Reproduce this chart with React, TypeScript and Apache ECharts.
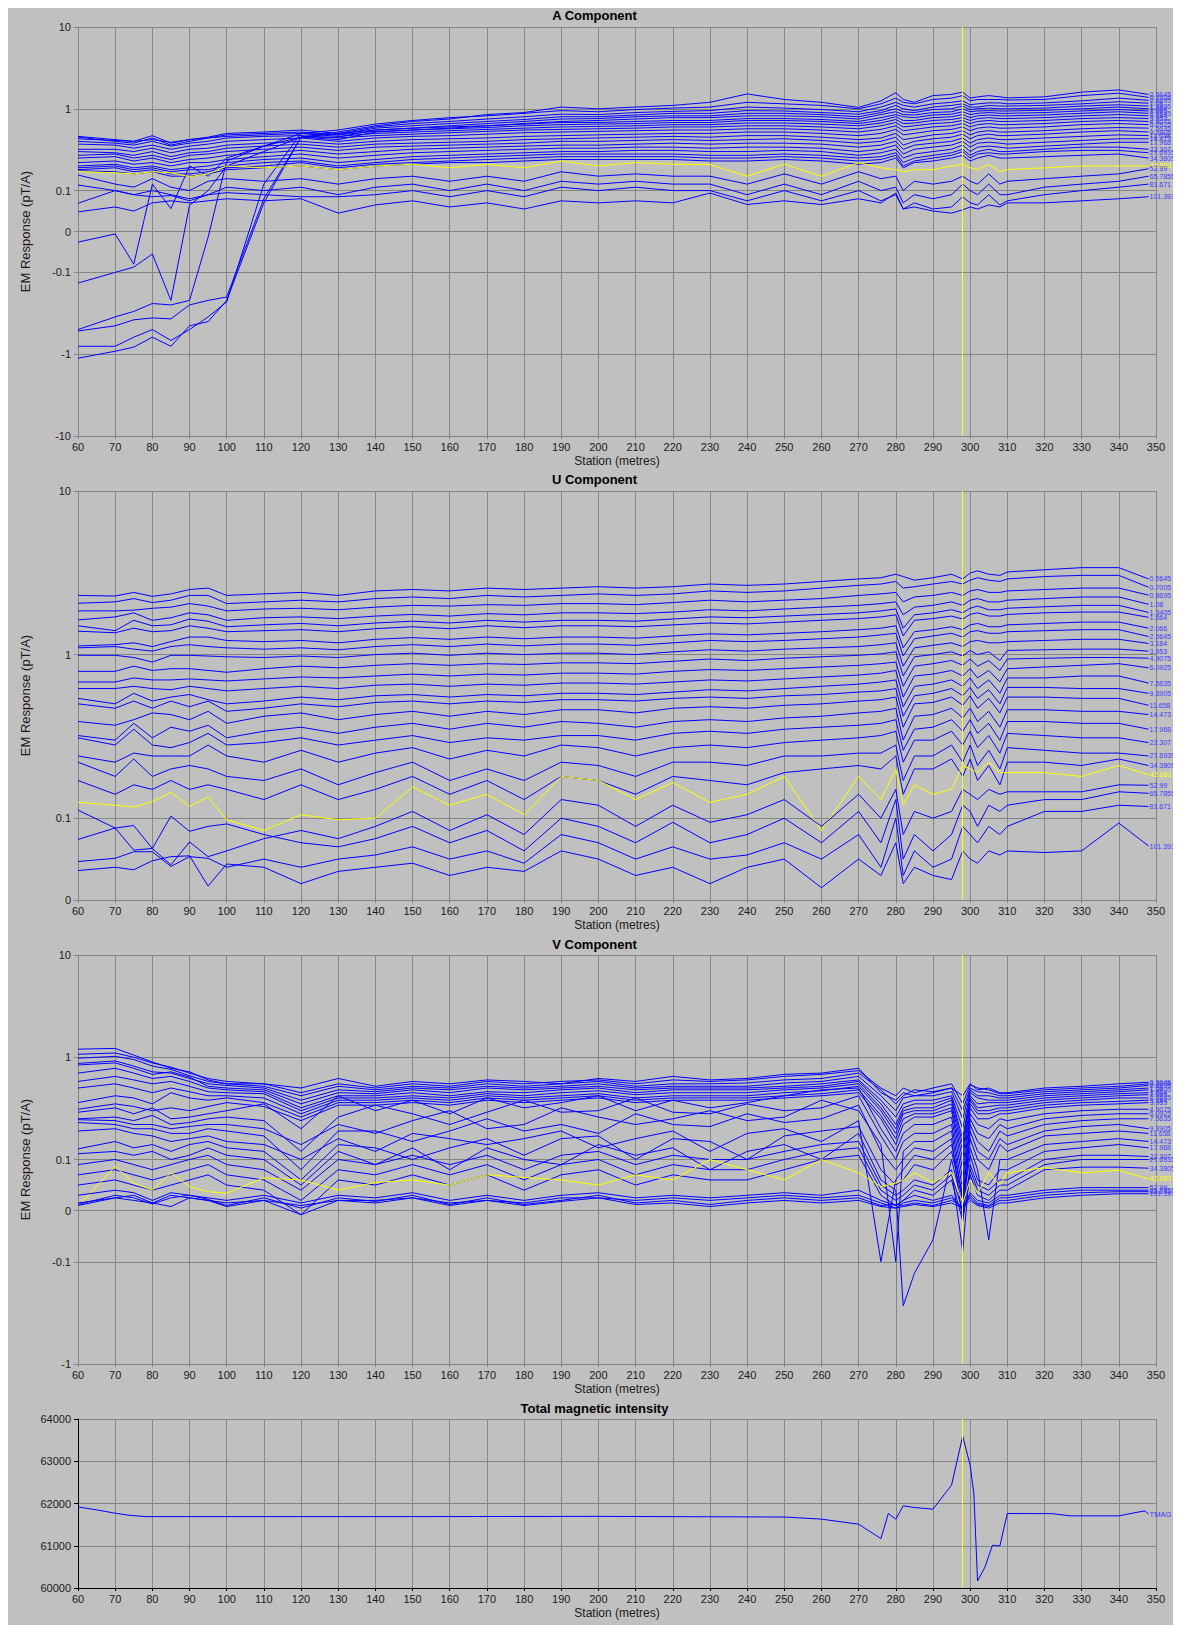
import React, { useEffect, useRef } from 'react';
import * as echarts from 'echarts';

// ---------------- DATA ----------------
const CHANNELS = ['0.5645', '0.7005', '0.8695', '1.08', '1.3405', '1.664', '2.066', '2.5645', '3.184', '3.953', '4.9075', '6.0925', '7.5635', '9.3905', '11.658', '14.473', '17.968', '22.307', '27.6935', '34.3805', '42.683', '52.99', '65.7855', '81.671', '101.393'];
const YELLOW_CHANNEL = '42.683';

const STATIONS = [60, 70, 75, 80, 85, 90, 95, 100, 110, 120, 130, 140, 150, 160, 170, 180, 190, 200, 210, 220, 230, 240, 250, 260, 270, 276, 280, 282, 285, 290, 295, 298, 300, 302, 305, 308, 310, 320, 330, 340, 348];

const A_VALUES = [
  [-1.12, -0.92, -0.82, -0.62, -0.8, -0.45, -0.4, -0.22, 0.07, 0.45, 0.52, 0.62, 0.7, 0.75, 0.85, 0.9, 1.05, 1.0, 1.05, 1.1, 1.2, 1.52, 1.3, 1.2, 1.04, 1.25, 1.57, 1.3, 1.2, 1.45, 1.5, 1.6, 1.35, 1.4, 1.45, 1.4, 1.36, 1.4, 1.6, 1.7, 1.5],
  [-0.8, -0.8, -0.62, -0.5, -0.68, -0.5, -0.35, -0.23, 0.12, 0.5, 0.55, 0.65, 0.72, 0.78, 0.82, 0.88, 0.95, 0.92, 0.98, 1.02, 1.05, 1.2, 1.15, 1.1, 1.0, 1.15, 1.35, 1.2, 1.15, 1.3, 1.35, 1.45, 1.25, 1.3, 1.3, 1.3, 1.28, 1.3, 1.45, 1.55, 1.38],
  [-0.52, -0.45, -0.38, -0.36, -0.37, -0.25, -0.22, -0.2, 0.08, 0.45, 0.5, 0.6, 0.66, 0.7, 0.75, 0.8, 0.86, 0.85, 0.9, 0.93, 0.95, 1.05, 1.02, 0.98, 0.92, 1.05, 1.2, 1.1, 1.05, 1.15, 1.2, 1.25, 1.12, 1.15, 1.18, 1.18, 1.15, 1.18, 1.25, 1.35, 1.27],
  [-0.5, -0.35, -0.3, -0.24, -0.25, -0.22, -0.014, 0.23, 0.35, 0.5, 0.48, 0.58, 0.62, 0.66, 0.7, 0.74, 0.8, 0.8, 0.84, 0.88, 0.88, 0.95, 0.94, 0.9, 0.86, 0.95, 1.1, 1.0, 0.95, 1.05, 1.1, 1.15, 1.05, 1.05, 1.1, 1.08, 1.08, 1.1, 1.15, 1.22, 1.17],
  [-0.135, -0.1, -0.087, -0.055, -0.22, 0.064, 0.1, 0.2, 0.3, 0.45, 0.45, 0.55, 0.58, 0.62, 0.66, 0.7, 0.75, 0.76, 0.8, 0.82, 0.82, 0.88, 0.88, 0.85, 0.8, 0.9, 1.0, 0.92, 0.9, 0.98, 1.0, 1.08, 0.98, 1.0, 1.02, 1.0, 1.0, 1.02, 1.08, 1.12, 1.08],
  [-0.026, -0.006, -0.08, 0.12, 0.056, 0.2, 0.15, 0.25, 0.35, 0.45, 0.42, 0.52, 0.55, 0.58, 0.62, 0.66, 0.7, 0.72, 0.75, 0.78, 0.78, 0.82, 0.82, 0.8, 0.75, 0.85, 0.92, 0.85, 0.84, 0.9, 0.92, 1.0, 0.92, 0.94, 0.95, 0.94, 0.94, 0.96, 1.0, 1.05, 1.0],
  [0.46, 0.42, 0.4, 0.47, 0.38, 0.42, 0.45, 0.5, 0.52, 0.55, 0.5, 0.55, 0.58, 0.6, 0.62, 0.65, 0.68, 0.68, 0.7, 0.72, 0.72, 0.76, 0.76, 0.74, 0.7, 0.78, 0.85, 0.8, 0.78, 0.84, 0.86, 0.92, 0.85, 0.88, 0.9, 0.88, 0.88, 0.9, 0.94, 0.98, 0.94],
  [0.45, 0.4, 0.38, 0.44, 0.36, 0.4, 0.44, 0.48, 0.5, 0.52, 0.48, 0.53, 0.55, 0.57, 0.59, 0.62, 0.64, 0.65, 0.66, 0.68, 0.68, 0.72, 0.72, 0.7, 0.66, 0.72, 0.8, 0.72, 0.72, 0.78, 0.8, 0.85, 0.78, 0.82, 0.84, 0.82, 0.82, 0.84, 0.88, 0.92, 0.88],
  [0.43, 0.41, 0.4, 0.42, 0.39, 0.42, 0.44, 0.46, 0.48, 0.5, 0.46, 0.5, 0.52, 0.54, 0.56, 0.58, 0.6, 0.61, 0.62, 0.64, 0.64, 0.67, 0.67, 0.65, 0.62, 0.67, 0.74, 0.66, 0.67, 0.72, 0.74, 0.78, 0.72, 0.76, 0.78, 0.76, 0.76, 0.78, 0.82, 0.85, 0.82],
  [0.4, 0.38, 0.36, 0.4, 0.35, 0.38, 0.4, 0.44, 0.46, 0.47, 0.44, 0.47, 0.49, 0.51, 0.53, 0.55, 0.56, 0.57, 0.58, 0.6, 0.6, 0.62, 0.62, 0.6, 0.57, 0.62, 0.68, 0.6, 0.62, 0.66, 0.68, 0.72, 0.66, 0.7, 0.72, 0.7, 0.7, 0.72, 0.76, 0.78, 0.76],
  [0.37, 0.36, 0.33, 0.36, 0.32, 0.35, 0.37, 0.4, 0.42, 0.44, 0.4, 0.44, 0.46, 0.47, 0.49, 0.51, 0.52, 0.53, 0.54, 0.55, 0.55, 0.57, 0.57, 0.55, 0.52, 0.56, 0.62, 0.54, 0.56, 0.6, 0.62, 0.66, 0.6, 0.64, 0.66, 0.64, 0.64, 0.66, 0.7, 0.72, 0.7],
  [0.32, 0.32, 0.3, 0.33, 0.29, 0.32, 0.33, 0.36, 0.38, 0.4, 0.37, 0.4, 0.42, 0.43, 0.44, 0.46, 0.47, 0.48, 0.49, 0.5, 0.5, 0.52, 0.52, 0.5, 0.47, 0.5, 0.56, 0.48, 0.5, 0.54, 0.56, 0.6, 0.54, 0.58, 0.6, 0.58, 0.58, 0.6, 0.64, 0.66, 0.64],
  [0.3, 0.29, 0.27, 0.3, 0.26, 0.29, 0.3, 0.33, 0.35, 0.37, 0.34, 0.37, 0.38, 0.39, 0.4, 0.42, 0.43, 0.44, 0.45, 0.46, 0.45, 0.47, 0.47, 0.45, 0.42, 0.44, 0.5, 0.42, 0.44, 0.48, 0.5, 0.54, 0.48, 0.52, 0.54, 0.52, 0.52, 0.54, 0.57, 0.59, 0.58],
  [0.27, 0.28, 0.25, 0.27, 0.24, 0.27, 0.28, 0.3, 0.32, 0.34, 0.31, 0.34, 0.35, 0.36, 0.37, 0.38, 0.4, 0.4, 0.41, 0.42, 0.41, 0.42, 0.43, 0.41, 0.38, 0.4, 0.45, 0.36, 0.4, 0.43, 0.45, 0.49, 0.43, 0.47, 0.49, 0.47, 0.47, 0.49, 0.52, 0.54, 0.52],
  [0.25, 0.26, 0.23, 0.25, 0.22, 0.24, 0.25, 0.27, 0.29, 0.31, 0.28, 0.3, 0.32, 0.33, 0.34, 0.35, 0.36, 0.36, 0.37, 0.38, 0.37, 0.38, 0.38, 0.37, 0.34, 0.36, 0.4, 0.32, 0.36, 0.38, 0.4, 0.44, 0.38, 0.42, 0.44, 0.42, 0.42, 0.44, 0.46, 0.48, 0.47],
  [0.22, 0.23, 0.21, 0.22, 0.2, 0.22, 0.22, 0.24, 0.26, 0.28, 0.25, 0.27, 0.29, 0.3, 0.31, 0.32, 0.33, 0.33, 0.34, 0.34, 0.33, 0.34, 0.34, 0.33, 0.3, 0.32, 0.36, 0.28, 0.32, 0.34, 0.36, 0.4, 0.34, 0.38, 0.39, 0.38, 0.37, 0.39, 0.41, 0.43, 0.43],
  [0.2, 0.21, 0.19, 0.2, 0.18, 0.19, 0.2, 0.22, 0.24, 0.25, 0.22, 0.24, 0.26, 0.27, 0.28, 0.29, 0.3, 0.3, 0.31, 0.31, 0.3, 0.3, 0.31, 0.3, 0.27, 0.29, 0.32, 0.25, 0.28, 0.3, 0.32, 0.36, 0.3, 0.34, 0.35, 0.34, 0.33, 0.35, 0.37, 0.39, 0.39],
  [0.19, 0.2, 0.18, 0.19, 0.17, 0.18, 0.18, 0.2, 0.22, 0.23, 0.2, 0.22, 0.24, 0.25, 0.26, 0.27, 0.28, 0.28, 0.28, 0.28, 0.27, 0.27, 0.28, 0.27, 0.25, 0.26, 0.29, 0.22, 0.25, 0.27, 0.29, 0.32, 0.27, 0.3, 0.32, 0.3, 0.3, 0.32, 0.34, 0.34, 0.32],
  [0.18, 0.19, 0.17, 0.18, 0.16, 0.16, 0.17, 0.19, 0.2, 0.22, 0.19, 0.21, 0.22, 0.23, 0.24, 0.25, 0.26, 0.26, 0.26, 0.26, 0.25, 0.25, 0.26, 0.25, 0.23, 0.24, 0.27, 0.2, 0.23, 0.25, 0.27, 0.3, 0.25, 0.28, 0.29, 0.28, 0.28, 0.3, 0.31, 0.31, 0.29],
  [0.175, 0.17, 0.16, 0.17, 0.15, 0.15, 0.16, 0.18, 0.19, 0.2, 0.18, 0.2, 0.21, 0.22, 0.22, 0.23, 0.24, 0.24, 0.24, 0.24, 0.23, 0.23, 0.24, 0.23, 0.21, 0.22, 0.25, 0.19, 0.22, 0.23, 0.25, 0.27, 0.23, 0.25, 0.27, 0.25, 0.25, 0.26, 0.27, 0.28, 0.25],
  [0.171, 0.165, 0.16, 0.17, 0.165, 0.148, 0.16, 0.2, 0.19, 0.2, 0.18, 0.2, 0.21, 0.19, 0.21, 0.19, 0.23, 0.2, 0.22, 0.21, 0.208, 0.15, 0.21, 0.15, 0.22, 0.19, 0.18, 0.17, 0.18, 0.18, 0.2, 0.21, 0.19, 0.18, 0.21, 0.17, 0.18, 0.19, 0.2, 0.2, 0.2],
  [0.155, 0.12, 0.11, 0.14, 0.11, 0.1, 0.13, 0.14, 0.13, 0.14, 0.12, 0.14, 0.15, 0.13, 0.15, 0.13, 0.17, 0.15, 0.16, 0.15, 0.15, 0.12, 0.16, 0.12, 0.17, 0.14, 0.15, 0.1, 0.13, 0.12, 0.13, 0.15, 0.13, 0.12, 0.16, 0.12, 0.13, 0.14, 0.15, 0.16, 0.185],
  [0.117, 0.1, 0.09, 0.1, 0.09, 0.08, 0.09, 0.11, 0.1, 0.11, 0.09, 0.11, 0.12, 0.1, 0.12, 0.1, 0.13, 0.12, 0.13, 0.12, 0.12, 0.09, 0.12, 0.09, 0.13, 0.1, 0.11, 0.07, 0.09, 0.08, 0.09, 0.12, 0.1, 0.09, 0.12, 0.09, 0.09, 0.11, 0.12, 0.13, 0.15],
  [0.069, 0.1, 0.09, 0.085, 0.088, 0.075, 0.09, 0.095, 0.09, 0.085, 0.085, 0.09, 0.1, 0.085, 0.1, 0.085, 0.11, 0.1, 0.11, 0.1, 0.1, 0.075, 0.1, 0.075, 0.1, 0.075, 0.09, 0.055, 0.07, 0.055, 0.06, 0.085, 0.07, 0.065, 0.09, 0.065, 0.075, 0.09, 0.1, 0.11, 0.12],
  [0.048, 0.06, 0.05, 0.07, 0.075, 0.07, 0.075, 0.08, 0.075, 0.08, 0.045, 0.065, 0.075, 0.06, 0.07, 0.055, 0.075, 0.07, 0.075, 0.07, 0.094, 0.066, 0.075, 0.066, 0.08, 0.07, 0.094, 0.055, 0.06, 0.05, 0.045, 0.053, 0.06, 0.055, 0.065, 0.06, 0.07, 0.07, 0.075, 0.08, 0.085],
];

const U_VALUES = [
  [2.3, 2.28, 2.4, 2.27, 2.35, 2.5, 2.55, 2.3, 2.35, 2.4, 2.3, 2.45, 2.5, 2.45, 2.55, 2.5, 2.55, 2.6, 2.55, 2.6, 2.7, 2.65, 2.7, 2.8, 2.9, 2.95, 3.1, 3.0, 2.85, 2.95, 3.1, 2.9, 3.15, 3.25, 3.1, 3.05, 3.2, 3.3, 3.4, 3.4, 2.9],
  [2.06, 2.1, 2.2, 2.08, 2.15, 2.3, 2.3, 2.05, 2.1, 2.15, 2.1, 2.2, 2.25, 2.2, 2.3, 2.25, 2.3, 2.35, 2.3, 2.35, 2.45, 2.4, 2.45, 2.55, 2.65, 2.7, 2.8, 2.55, 2.6, 2.7, 2.8, 2.7, 2.85, 2.95, 2.85, 2.8, 2.9, 3.0, 3.05, 3.05, 2.58],
  [1.85, 1.85, 1.87, 1.92, 1.95, 2.05, 1.98, 1.85, 1.9, 1.92, 1.88, 1.95, 2.0, 1.98, 2.02, 2.0, 2.05, 2.05, 2.02, 2.08, 2.15, 2.1, 2.15, 2.2, 2.3, 2.35, 2.4, 2.1, 2.25, 2.3, 2.4, 2.3, 2.45, 2.5, 2.4, 2.4, 2.45, 2.5, 2.55, 2.55, 2.31],
  [1.63, 1.7, 1.8, 1.62, 1.68, 1.8, 1.75, 1.62, 1.68, 1.7, 1.66, 1.72, 1.76, 1.72, 1.78, 1.75, 1.8, 1.8, 1.78, 1.82, 1.88, 1.85, 1.9, 1.95, 2.0, 2.05, 2.1, 1.75, 1.95, 2.0, 2.1, 2.0, 2.15, 2.2, 2.1, 2.1, 2.15, 2.2, 2.25, 2.25, 2.03],
  [1.5, 1.4, 1.62, 1.5, 1.52, 1.65, 1.6, 1.48, 1.52, 1.55, 1.5, 1.56, 1.6, 1.56, 1.62, 1.58, 1.62, 1.62, 1.6, 1.65, 1.7, 1.68, 1.72, 1.76, 1.8, 1.85, 1.9, 1.45, 1.75, 1.8, 1.88, 1.8, 1.92, 1.98, 1.88, 1.88, 1.92, 1.96, 2.0, 2.0, 1.81],
  [1.39, 1.36, 1.45, 1.38, 1.4, 1.5, 1.45, 1.38, 1.4, 1.42, 1.38, 1.44, 1.48, 1.44, 1.5, 1.46, 1.5, 1.5, 1.48, 1.52, 1.56, 1.54, 1.58, 1.62, 1.66, 1.7, 1.75, 1.3, 1.62, 1.66, 1.72, 1.65, 1.76, 1.8, 1.72, 1.72, 1.76, 1.8, 1.82, 1.82, 1.69],
  [1.13, 1.15, 1.18, 1.12, 1.2, 1.28, 1.28, 1.22, 1.2, 1.22, 1.18, 1.24, 1.27, 1.24, 1.28, 1.25, 1.28, 1.28, 1.26, 1.3, 1.34, 1.32, 1.35, 1.38, 1.42, 1.45, 1.5, 1.1, 1.38, 1.42, 1.48, 1.42, 1.52, 1.55, 1.48, 1.48, 1.52, 1.55, 1.58, 1.58, 1.45],
  [1.1, 1.12, 1.08, 1.05, 1.12, 1.15, 1.12, 1.1, 1.08, 1.1, 1.07, 1.12, 1.15, 1.12, 1.16, 1.13, 1.16, 1.16, 1.14, 1.18, 1.22, 1.2, 1.22, 1.25, 1.28, 1.32, 1.35, 0.98, 1.25, 1.3, 1.35, 1.28, 1.38, 1.4, 1.35, 1.35, 1.38, 1.4, 1.42, 1.42, 1.29],
  [0.99, 0.99, 0.96, 0.9, 0.99, 0.99, 0.98, 0.97, 0.96, 0.98, 0.96, 1.0, 1.02, 0.99, 1.02, 1.0, 1.02, 1.02, 1.0, 1.04, 1.07, 1.05, 1.08, 1.1, 1.12, 1.15, 1.18, 0.85, 1.1, 1.14, 1.18, 1.12, 1.2, 1.22, 1.18, 1.18, 1.2, 1.22, 1.24, 1.24, 1.17],
  [0.79, 0.79, 0.85, 0.8, 0.82, 0.82, 0.8, 0.78, 0.82, 0.85, 0.83, 0.86, 0.88, 0.86, 0.88, 0.87, 0.89, 0.89, 0.88, 0.91, 0.94, 0.92, 0.95, 0.97, 0.99, 1.01, 1.04, 0.74, 0.97, 1.0, 1.04, 0.98, 1.06, 1.0, 1.04, 0.92, 1.06, 1.07, 1.08, 1.08, 1.05],
  [0.68, 0.68, 0.72, 0.7, 0.7, 0.71, 0.7, 0.69, 0.71, 0.73, 0.72, 0.74, 0.76, 0.74, 0.76, 0.75, 0.77, 0.77, 0.76, 0.79, 0.81, 0.8, 0.82, 0.84, 0.86, 0.88, 0.9, 0.64, 0.85, 0.88, 0.92, 0.86, 0.94, 0.85, 0.92, 0.8, 0.94, 0.95, 0.96, 0.96, 0.95],
  [0.62, 0.62, 0.64, 0.62, 0.61, 0.64, 0.62, 0.6, 0.62, 0.64, 0.62, 0.65, 0.66, 0.64, 0.66, 0.65, 0.67, 0.67, 0.66, 0.68, 0.7, 0.69, 0.71, 0.73, 0.75, 0.77, 0.8, 0.55, 0.74, 0.76, 0.8, 0.74, 0.82, 0.72, 0.8, 0.68, 0.82, 0.84, 0.86, 0.88, 0.83],
  [0.54, 0.5, 0.58, 0.52, 0.55, 0.57, 0.53, 0.5, 0.52, 0.55, 0.53, 0.56, 0.57, 0.55, 0.57, 0.56, 0.58, 0.58, 0.57, 0.59, 0.61, 0.6, 0.62, 0.64, 0.66, 0.68, 0.7, 0.48, 0.64, 0.66, 0.7, 0.64, 0.72, 0.62, 0.7, 0.58, 0.72, 0.72, 0.74, 0.74, 0.67],
  [0.5, 0.47, 0.52, 0.47, 0.52, 0.48, 0.52, 0.45, 0.47, 0.5, 0.48, 0.51, 0.52, 0.5, 0.52, 0.51, 0.53, 0.53, 0.52, 0.54, 0.55, 0.54, 0.56, 0.57, 0.59, 0.6, 0.62, 0.42, 0.56, 0.58, 0.62, 0.56, 0.63, 0.54, 0.61, 0.5, 0.63, 0.63, 0.62, 0.62, 0.58],
  [0.39, 0.37, 0.4, 0.44, 0.43, 0.4, 0.45, 0.38, 0.42, 0.44, 0.4, 0.43, 0.45, 0.42, 0.45, 0.43, 0.46, 0.46, 0.44, 0.47, 0.48, 0.47, 0.49, 0.5, 0.52, 0.53, 0.55, 0.36, 0.5, 0.51, 0.55, 0.49, 0.56, 0.47, 0.54, 0.44, 0.55, 0.55, 0.54, 0.54, 0.49],
  [0.32, 0.3, 0.38, 0.31, 0.36, 0.34, 0.37, 0.31, 0.34, 0.36, 0.33, 0.36, 0.38, 0.35, 0.38, 0.36, 0.39, 0.38, 0.36, 0.39, 0.4, 0.39, 0.41, 0.42, 0.44, 0.45, 0.47, 0.3, 0.42, 0.43, 0.47, 0.41, 0.47, 0.39, 0.45, 0.36, 0.46, 0.46, 0.45, 0.45, 0.43],
  [0.31, 0.28, 0.35, 0.28, 0.27, 0.29, 0.33, 0.28, 0.29, 0.31, 0.28, 0.3, 0.32, 0.29, 0.31, 0.3, 0.32, 0.32, 0.3, 0.33, 0.34, 0.33, 0.35, 0.36, 0.37, 0.38, 0.4, 0.26, 0.35, 0.36, 0.4, 0.34, 0.4, 0.33, 0.38, 0.3, 0.39, 0.39, 0.38, 0.38, 0.35],
  [0.24, 0.22, 0.25, 0.24, 0.24, 0.24, 0.28, 0.24, 0.22, 0.26, 0.22, 0.25, 0.27, 0.23, 0.26, 0.24, 0.28, 0.27, 0.24, 0.27, 0.28, 0.27, 0.29, 0.3, 0.31, 0.32, 0.34, 0.22, 0.3, 0.3, 0.34, 0.28, 0.34, 0.27, 0.32, 0.25, 0.33, 0.32, 0.31, 0.31, 0.29],
  [0.22, 0.18, 0.23, 0.18, 0.2, 0.21, 0.2, 0.18, 0.17, 0.2, 0.16, 0.19, 0.22, 0.17, 0.2, 0.17, 0.22, 0.21, 0.18, 0.22, 0.22, 0.21, 0.24, 0.24, 0.25, 0.25, 0.28, 0.17, 0.24, 0.24, 0.28, 0.22, 0.28, 0.21, 0.26, 0.2, 0.27, 0.26, 0.25, 0.25, 0.24],
  [0.17, 0.14, 0.16, 0.15, 0.17, 0.15, 0.16, 0.15, 0.13, 0.16, 0.13, 0.15, 0.18, 0.14, 0.17, 0.13, 0.18, 0.17, 0.14, 0.18, 0.17, 0.16, 0.19, 0.2, 0.21, 0.2, 0.24, 0.14, 0.2, 0.2, 0.23, 0.18, 0.23, 0.17, 0.21, 0.16, 0.22, 0.22, 0.21, 0.23, 0.21],
  [0.125, 0.12, 0.117, 0.126, 0.144, 0.118, 0.135, 0.098, 0.085, 0.105, 0.098, 0.1, 0.155, 0.12, 0.14, 0.105, 0.18, 0.17, 0.13, 0.165, 0.125, 0.14, 0.18, 0.085, 0.18, 0.13, 0.2, 0.12, 0.16, 0.14, 0.15, 0.21, 0.2, 0.19, 0.22, 0.19, 0.19, 0.19, 0.18, 0.21, 0.184],
  [0.112, 0.088, 0.061, 0.063, 0.043, 0.071, 0.053, 0.06, 0.075, 0.085, 0.075, 0.09, 0.11, 0.085, 0.105, 0.08, 0.13, 0.12, 0.09, 0.12, 0.095, 0.105, 0.13, 0.09, 0.14, 0.1, 0.15, 0.08, 0.11, 0.1, 0.11, 0.15, 0.14, 0.13, 0.15, 0.14, 0.145, 0.145, 0.145, 0.16, 0.159],
  [0.074, 0.088, 0.091, 0.063, 0.103, 0.084, 0.09, 0.093, 0.08, 0.07, 0.065, 0.075, 0.09, 0.07, 0.085, 0.06, 0.1, 0.09, 0.07, 0.095, 0.07, 0.08, 0.1, 0.07, 0.11, 0.07, 0.13, 0.05, 0.08, 0.06, 0.08, 0.12, 0.11, 0.09, 0.12, 0.11, 0.12, 0.13, 0.13, 0.145, 0.142],
  [0.047, 0.051, 0.059, 0.059, 0.041, 0.053, 0.051, 0.04, 0.05, 0.04, 0.05, 0.055, 0.065, 0.05, 0.06, 0.045, 0.08, 0.07, 0.05, 0.065, 0.05, 0.055, 0.07, 0.05, 0.08, 0.04, 0.1, 0.03, 0.06, 0.04, 0.05, 0.09, 0.08, 0.07, 0.09, 0.08, 0.09, 0.11, 0.11, 0.12, 0.118],
  [0.036, 0.04, 0.037, 0.048, 0.053, 0.054, 0.017, 0.044, 0.04, 0.02, 0.035, 0.04, 0.045, 0.03, 0.04, 0.035, 0.06, 0.05, 0.03, 0.04, 0.02, 0.04, 0.05, 0.015, 0.05, 0.03, 0.07, 0.02, 0.04, 0.03, 0.025, 0.06, 0.05, 0.045, 0.06, 0.055, 0.06, 0.058, 0.06, 0.094, 0.066],
];

const V_VALUES = [
  [1.2, 1.22, 1.05, 0.9, 0.78, 0.72, 0.6, 0.55, 0.55, 0.5, 0.62, 0.52, 0.58, 0.55, 0.6, 0.58, 0.55, 0.62, 0.58, 0.65, 0.6, 0.62, 0.68, 0.7, 0.78, 0.45, 0.38, 0.45, 0.42, 0.45, 0.5, 0.42, 0.55, 0.48, 0.5, 0.45, 0.45, 0.5, 0.52, 0.55, 0.57],
  [1.07, 1.1, 1.0, 0.88, 0.8, 0.7, 0.62, 0.58, 0.55, 0.45, 0.55, 0.5, 0.55, 0.52, 0.58, 0.55, 0.58, 0.6, 0.55, 0.6, 0.58, 0.6, 0.65, 0.68, 0.74, 0.5, 0.42, 0.5, 0.45, 0.5, 0.55, 0.35, 0.54, 0.5, 0.48, 0.44, 0.44, 0.48, 0.5, 0.52, 0.55],
  [0.98, 1.02, 0.95, 0.82, 0.76, 0.66, 0.58, 0.55, 0.52, 0.42, 0.52, 0.48, 0.52, 0.5, 0.55, 0.52, 0.55, 0.58, 0.52, 0.55, 0.55, 0.56, 0.6, 0.62, 0.7, 0.48, 0.35, 0.42, 0.48, 0.46, 0.5, 0.3, 0.5, 0.46, 0.45, 0.42, 0.42, 0.46, 0.48, 0.5, 0.53],
  [0.87, 0.92, 0.82, 0.72, 0.7, 0.62, 0.55, 0.53, 0.5, 0.38, 0.48, 0.46, 0.5, 0.48, 0.52, 0.5, 0.52, 0.55, 0.5, 0.52, 0.52, 0.52, 0.56, 0.58, 0.65, 0.42, 0.3, 0.4, 0.42, 0.42, 0.46, 0.25, 0.48, 0.42, 0.42, 0.4, 0.4, 0.44, 0.46, 0.48, 0.5],
  [0.84, 0.88, 0.78, 0.68, 0.72, 0.64, 0.52, 0.5, 0.48, 0.35, 0.45, 0.44, 0.48, 0.45, 0.5, 0.48, 0.5, 0.52, 0.48, 0.5, 0.5, 0.5, 0.52, 0.55, 0.6, 0.38, 0.26, 0.35, 0.38, 0.38, 0.42, 0.2, 0.45, 0.4, 0.38, 0.38, 0.38, 0.42, 0.44, 0.46, 0.48],
  [0.7, 0.78, 0.7, 0.62, 0.65, 0.58, 0.5, 0.48, 0.46, 0.32, 0.42, 0.42, 0.45, 0.42, 0.46, 0.45, 0.48, 0.5, 0.45, 0.48, 0.48, 0.48, 0.5, 0.52, 0.58, 0.35, 0.22, 0.32, 0.35, 0.35, 0.4, 0.16, 0.42, 0.35, 0.36, 0.36, 0.36, 0.4, 0.42, 0.44, 0.45],
  [0.58, 0.65, 0.6, 0.55, 0.58, 0.52, 0.46, 0.45, 0.44, 0.3, 0.4, 0.4, 0.42, 0.4, 0.44, 0.42, 0.45, 0.47, 0.43, 0.45, 0.45, 0.45, 0.48, 0.5, 0.55, 0.32, 0.2, 0.3, 0.32, 0.32, 0.38, 0.14, 0.4, 0.32, 0.33, 0.34, 0.34, 0.38, 0.4, 0.42, 0.43],
  [0.5, 0.55, 0.5, 0.45, 0.5, 0.46, 0.42, 0.42, 0.4, 0.28, 0.38, 0.38, 0.4, 0.38, 0.42, 0.4, 0.42, 0.44, 0.4, 0.42, 0.42, 0.42, 0.45, 0.47, 0.52, 0.3, 0.18, 0.28, 0.3, 0.3, 0.35, 0.12, 0.38, 0.3, 0.3, 0.32, 0.32, 0.36, 0.38, 0.4, 0.4],
  [0.36, 0.42, 0.4, 0.35, 0.45, 0.4, 0.38, 0.4, 0.36, 0.26, 0.36, 0.36, 0.38, 0.36, 0.4, 0.38, 0.4, 0.42, 0.38, 0.4, 0.4, 0.4, 0.42, 0.44, 0.48, 0.27, 0.16, 0.25, 0.28, 0.28, 0.32, 0.1, 0.35, 0.28, 0.28, 0.3, 0.3, 0.34, 0.36, 0.37, 0.38],
  [0.31, 0.35, 0.33, 0.3, 0.32, 0.3, 0.33, 0.36, 0.33, 0.24, 0.34, 0.34, 0.36, 0.34, 0.38, 0.36, 0.38, 0.4, 0.36, 0.38, 0.38, 0.38, 0.4, 0.42, 0.45, 0.25, 0.14, 0.22, 0.26, 0.26, 0.3, 0.08, 0.32, 0.25, 0.25, 0.28, 0.28, 0.32, 0.34, 0.35, 0.36],
  [0.29, 0.32, 0.28, 0.32, 0.25, 0.26, 0.28, 0.3, 0.35, 0.2, 0.42, 0.3, 0.38, 0.28, 0.4, 0.32, 0.36, 0.42, 0.3, 0.38, 0.32, 0.36, 0.42, 0.48, 0.5, 0.2, 0.12, 0.18, 0.22, 0.22, 0.26, 0.06, 0.28, 0.22, 0.2, 0.25, 0.24, 0.28, 0.3, 0.31, 0.31],
  [0.25, 0.26, 0.24, 0.27, 0.22, 0.23, 0.25, 0.26, 0.24, 0.12, 0.26, 0.34, 0.28, 0.22, 0.29, 0.38, 0.29, 0.3, 0.4, 0.29, 0.28, 0.35, 0.3, 0.32, 0.42, 0.17, 0.1, 0.15, 0.18, 0.18, 0.22, 0.04, 0.25, 0.18, 0.16, 0.22, 0.2, 0.25, 0.27, 0.28, 0.28],
  [0.245, 0.24, 0.22, 0.22, 0.2, 0.21, 0.22, 0.22, 0.2, 0.14, 0.22, 0.18, 0.24, 0.3, 0.2, 0.22, 0.32, 0.26, 0.22, 0.25, 0.3, 0.24, 0.26, 0.38, 0.3, 0.14, -0.1, 0.12, 0.15, 0.15, 0.19, 0.02, 0.22, 0.15, 0.12, 0.19, 0.17, 0.22, 0.24, 0.25, 0.25],
  [0.23, 0.22, 0.2, 0.2, 0.18, 0.18, 0.2, 0.19, 0.17, 0.08, 0.19, 0.19, 0.15, 0.19, 0.25, 0.19, 0.22, 0.18, 0.28, 0.22, 0.21, 0.28, 0.23, 0.25, 0.34, 0.12, 0.08, 0.1, 0.13, 0.12, 0.16, -0.02, 0.19, 0.12, 0.1, 0.16, 0.14, 0.19, 0.21, 0.22, 0.2],
  [0.19, 0.2, 0.18, 0.17, 0.15, 0.16, 0.17, 0.15, 0.14, 0.1, 0.16, 0.12, 0.18, 0.16, 0.14, 0.16, 0.19, 0.13, 0.16, 0.19, 0.12, 0.18, 0.2, 0.15, 0.24, -0.1, 0.06, 0.08, 0.11, 0.1, 0.14, 0.03, 0.16, 0.1, 0.08, 0.14, 0.12, 0.17, 0.18, 0.19, 0.18],
  [0.127, 0.15, 0.13, 0.14, 0.12, 0.14, 0.15, 0.13, 0.12, 0.06, 0.14, 0.13, 0.1, 0.13, 0.16, 0.11, 0.16, 0.17, 0.1, 0.16, 0.15, 0.1, 0.17, 0.19, 0.21, 0.08, 0.05, 0.06, 0.09, 0.08, 0.12, 0.02, 0.13, 0.08, -0.057, 0.1, 0.1, 0.14, 0.15, 0.16, 0.15],
  [0.114, 0.12, 0.11, 0.12, 0.1, 0.11, 0.13, 0.11, 0.1, 0.05, 0.12, 0.09, 0.13, 0.08, 0.13, 0.1, 0.09, 0.14, 0.11, 0.13, 0.08, 0.12, 0.14, 0.1, 0.18, 0.06, 0.04, -0.27, -0.13, -0.057, 0.1, 0.01, 0.11, 0.06, 0.05, 0.08, 0.08, 0.12, 0.13, 0.14, 0.13],
  [0.09, 0.1, 0.09, 0.08, 0.09, 0.1, 0.11, 0.09, 0.08, 0.04, 0.1, 0.09, 0.11, 0.09, 0.11, 0.08, 0.11, 0.12, 0.09, 0.11, 0.1, 0.1, 0.12, 0.14, 0.15, 0.05, 0.03, 0.04, 0.06, 0.05, 0.08, -0.08, 0.09, 0.05, 0.04, 0.06, 0.06, 0.1, 0.11, 0.11, 0.107],
  [0.07, 0.08, 0.07, 0.06, 0.07, 0.08, 0.09, 0.07, 0.06, 0.02, 0.08, 0.07, 0.09, 0.07, 0.09, 0.06, 0.09, 0.1, 0.07, 0.09, 0.08, 0.08, 0.1, 0.12, 0.13, 0.04, 0.02, 0.03, 0.05, 0.04, 0.07, 0.0, 0.08, 0.04, 0.03, 0.05, 0.05, 0.09, 0.1, 0.1, 0.1],
  [0.05, 0.06, 0.05, 0.04, 0.05, 0.06, 0.07, 0.05, 0.04, -0.008, 0.06, 0.05, 0.07, 0.05, 0.07, 0.04, 0.07, 0.08, 0.05, 0.07, 0.06, 0.06, 0.08, 0.1, 0.11, 0.03, 0.01, 0.02, 0.04, 0.03, 0.06, -0.02, 0.07, 0.03, 0.02, 0.04, 0.04, 0.08, 0.085, 0.085, 0.083],
  [0.008, 0.087, 0.054, 0.04, 0.074, 0.047, 0.037, 0.034, 0.064, 0.06, 0.04, 0.055, 0.06, 0.05, 0.07, 0.065, 0.06, 0.05, 0.07, 0.06, 0.1, 0.08, 0.06, 0.1, 0.074, 0.047, 0.054, 0.06, 0.074, 0.055, 0.075, 0.015, 0.06, 0.034, 0.074, 0.05, 0.074, 0.084, 0.074, 0.079, 0.062],
  [0.03, 0.04, 0.035, 0.02, 0.035, 0.03, 0.025, 0.02, 0.03, 0.015, 0.03, 0.025, 0.035, 0.02, 0.03, 0.02, 0.03, 0.035, 0.025, 0.03, 0.025, 0.03, 0.035, 0.03, 0.04, 0.02, 0.01, 0.02, 0.03, 0.02, 0.03, 0.0, 0.035, 0.02, 0.015, 0.03, 0.03, 0.04, 0.045, 0.045, 0.045],
  [0.015, 0.025, 0.03, 0.015, 0.03, 0.025, 0.02, 0.015, 0.02, 0.01, 0.02, 0.02, 0.025, 0.015, 0.02, 0.015, 0.025, 0.025, 0.02, 0.025, 0.02, 0.025, 0.03, 0.025, 0.03, 0.015, 0.005, 0.015, 0.02, 0.015, 0.025, 0.005, 0.03, 0.015, 0.01, 0.025, 0.025, 0.035, 0.04, 0.04, 0.04],
  [0.012, 0.03, 0.025, 0.013, 0.025, 0.03, 0.022, 0.01, 0.025, 0.005, 0.025, 0.018, 0.03, 0.012, 0.025, 0.012, 0.02, 0.03, 0.015, 0.02, 0.012, 0.02, 0.025, 0.02, 0.025, 0.01, 0.012, 0.01, 0.015, 0.01, 0.02, 0.008, 0.025, 0.012, 0.008, 0.02, 0.02, 0.03, 0.035, 0.037, 0.037],
  [0.01, 0.025, 0.02, 0.015, 0.008, 0.025, 0.02, 0.008, 0.02, -0.008, 0.02, 0.015, 0.025, 0.01, 0.02, 0.01, 0.018, 0.025, 0.012, 0.015, 0.008, 0.015, 0.02, 0.015, 0.02, 0.008, 0.005, 0.008, 0.012, 0.008, 0.015, 0.005, 0.02, 0.01, 0.005, 0.015, 0.015, 0.025, 0.03, 0.033, 0.033],
];

const TMI_STATIONS = [60, 62, 65, 70, 74, 78, 100, 150, 200, 250, 260, 270, 276, 278, 280, 282, 285, 290, 295, 298, 300, 301, 302, 304, 306, 308, 310, 322, 327, 340, 343, 347, 348];
const TMI_VALUES = [61921, 61890, 61850, 61770, 61720, 61690, 61690, 61690, 61695, 61680, 61630, 61510, 61170, 61763, 61630, 61945, 61905, 61866, 62435, 63597, 62909, 62237, 60166, 60498, 61012, 60996, 61763, 61760, 61707, 61707, 61760, 61826, 61747];

const MARKER_STATION = 298;
const EM_TICKS_A = [2.5, 1.5, 0.5, 0, -0.5, -1.5, -2.5];
const EM_TICKS_U = [2.5, 1.5, 0.5, 0];
const EM_TICKS_V = [2.5, 1.5, 0.5, 0, -0.5, -1.5];
const TICK_TEXT: Record<string, string> = { '2.5': '10', '1.5': '1', '0.5': '0.1', '0': '0', '-0.5': '-0.1', '-1.5': '-1', '-2.5': '-10' };

// ---------------- STYLE / LAYOUT ----------------
const FONT = '"Liberation Sans", Arial, sans-serif';
const BLUE = '#0000ff';
const YELLOW = '#ffff00';
const GRIDC = '#858585';
const TEXTC = '#1a1a1a';
const W = 1173;
const H = 1617;
const GL = 70;
const GW = 1078;

// symmetric log scale: log decades above |0.1|, linear half-decade between -0.1 and 0.1
const toAxis = (v: number) => (Math.abs(v) >= 0.1 ? Math.sign(v) * (Math.log10(Math.abs(v)) + 1.5) : v * 5);
const tickText = (p: number) => {
  const k = String(Math.round(p * 10) / 10 + 0);
  return TICK_TEXT[k] ?? '';
};

const EM_PANELS = [
  { title: 'A Component', values: A_VALUES, min: -2.5, ticks: EM_TICKS_A, top: 19, titleTop: 1 },
  { title: 'U Component', values: U_VALUES, min: 0, ticks: EM_TICKS_U, top: 483, titleTop: 465 },
  { title: 'V Component', values: V_VALUES, min: -1.5, ticks: EM_TICKS_V, top: 947, titleTop: 930 },
];

function buildOption() {
  const grid: any[] = [];
  const xAxis: any[] = [];
  const yAxis: any[] = [];
  const series: any[] = [];
  const title: any[] = [];

  const xAxisFor = (i: number, dark: boolean) => ({
    type: 'value',
    gridIndex: i,
    min: 60,
    max: 350,
    interval: 10,
    axisLine: { show: true, onZero: false, lineStyle: { color: dark ? '#000' : GRIDC, width: 1 } },
    axisTick: { show: true, length: 3, lineStyle: { color: dark ? '#000' : GRIDC } },
    axisLabel: { fontSize: 11, color: TEXTC, margin: 5, fontFamily: FONT },
    splitLine: { show: true, lineStyle: { color: GRIDC, width: 1 } },
    name: 'Station (metres)',
    nameLocation: 'middle',
    nameGap: 19,
    nameTextStyle: { fontSize: 12, color: TEXTC, fontFamily: FONT },
  });

  const titleFor = (text: string, top: number) => ({
    text,
    left: 'center',
    top,
    padding: 0,
    textStyle: { fontSize: 13, fontWeight: 'bold', color: '#000', fontFamily: FONT },
  });

  const markerSeries = (i: number) => ({
    type: 'line',
    xAxisIndex: i,
    yAxisIndex: i,
    data: [],
    silent: true,
    markLine: {
      silent: true,
      z: 10,
      symbol: ['none', 'none'],
      label: { show: false },
      lineStyle: { color: YELLOW, type: 'solid', width: 1 },
      data: [{ xAxis: MARKER_STATION }],
    },
  });

  EM_PANELS.forEach((p, i) => {
    grid.push({ left: GL, top: p.top, width: GW, height: 409 });
    title.push(titleFor(p.title, p.titleTop));
    xAxis.push(xAxisFor(i, false));
    yAxis.push({
      type: 'value',
      gridIndex: i,
      min: p.min,
      max: 2.5,
      interval: 0.5,
      axisLine: { show: true, onZero: false, lineStyle: { color: GRIDC } },
      axisTick: { show: true, length: 4, customValues: p.ticks, lineStyle: { color: GRIDC } },
      axisLabel: { customValues: p.ticks, formatter: (v: number) => tickText(v), fontSize: 11, color: TEXTC, margin: 7, fontFamily: FONT },
      splitLine: { show: false },
      name: 'EM Response (pT/A)',
      nameLocation: 'middle',
      nameGap: 46,
      nameRotate: 90,
      nameTextStyle: { fontSize: 13, color: TEXTC, fontFamily: FONT },
    });
    // horizontal grid lines at the labelled decades
    series.push({
      type: 'line',
      xAxisIndex: i,
      yAxisIndex: i,
      data: [],
      silent: true,
      markLine: {
        silent: true,
        z: 1,
        symbol: ['none', 'none'],
        label: { show: false },
        lineStyle: { color: GRIDC, type: 'solid', width: 1 },
        data: p.ticks.map((t) => ({ yAxis: t })),
      },
    });
    p.values.forEach((vals, c) => {
      const ch = CHANNELS[c];
      const isY = ch === YELLOW_CHANNEL;
      series.push({
        type: 'line',
        name: `${p.title} ${ch}`,
        xAxisIndex: i,
        yAxisIndex: i,
        data: STATIONS.map((s, k) => [s, toAxis(vals[k])]),
        showSymbol: false,
        symbol: 'none',
        silent: true,
        clip: false,
        z: 3,
        lineStyle: { width: 1, color: isY ? YELLOW : BLUE },
        itemStyle: { color: isY ? YELLOW : BLUE },
        endLabel: {
          show: true,
          formatter: () => ch,
          color: isY ? YELLOW : '#3c3cff',
          fontSize: 7,
          fontFamily: FONT,
          distance: 1,
        },
      });
    });
    series.push(markerSeries(i));
  });

  // Total magnetic intensity panel
  grid.push({ left: GL, top: 1411, width: GW, height: 169 });
  title.push(titleFor('Total magnetic intensity', 1394));
  xAxis.push(xAxisFor(3, true));
  yAxis.push({
    type: 'value',
    gridIndex: 3,
    min: 60000,
    max: 64000,
    interval: 1000,
    axisLine: { show: true, onZero: false, lineStyle: { color: '#000' } },
    axisTick: { show: true, length: 4, lineStyle: { color: '#000' } },
    axisLabel: { formatter: (v: number) => String(v), fontSize: 11, color: TEXTC, margin: 7, fontFamily: FONT },
    splitLine: { show: true, lineStyle: { color: GRIDC, width: 1 } },
  });
  series.push({
    type: 'line',
    name: 'TMAG',
    xAxisIndex: 3,
    yAxisIndex: 3,
    data: TMI_STATIONS.map((s, k) => [s, TMI_VALUES[k]]),
    showSymbol: false,
    symbol: 'none',
    silent: true,
    clip: false,
    z: 3,
    lineStyle: { width: 1, color: BLUE },
    itemStyle: { color: BLUE },
    endLabel: { show: true, formatter: () => 'TMAG', color: '#3c3cff', fontSize: 7.5, fontFamily: FONT, distance: 1 },
  });
  series.push(markerSeries(3));

  return {
    animation: false,
    backgroundColor: '#c0c0c0',
    textStyle: { fontFamily: FONT },
    title,
    grid,
    xAxis,
    yAxis,
    series,
  };
}

export default function App() {
  const ref = useRef<HTMLDivElement>(null);
  useEffect(() => {
    document.body.style.overflow = 'hidden';
    if (!ref.current) return;
    const chart = echarts.init(ref.current, null, { renderer: 'svg' });
    chart.setOption(buildOption() as any);
    return () => {
      chart.dispose();
    };
  }, []);
  return <div ref={ref} style={{ width: W, height: H }} />;
}
